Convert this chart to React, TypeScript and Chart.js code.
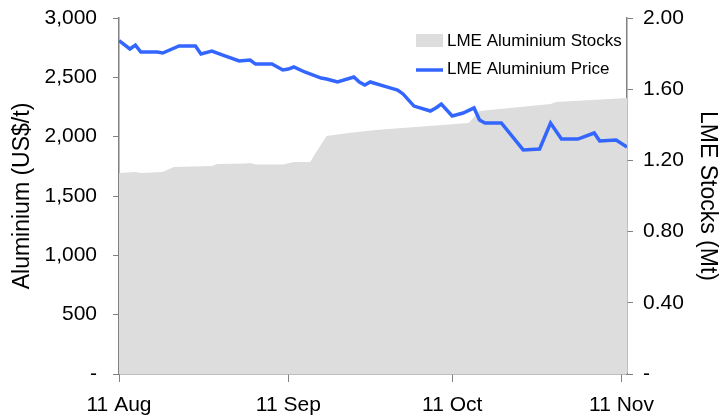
import React, { useEffect, useRef } from 'react';
import { Chart, registerables } from 'chart.js';

Chart.register(...registerables);

// x values are calendar days after 11 Aug
const tickDays = [0, 31, 61, 92];
const tickLabels = ['11 Aug', '11 Sep', '11 Oct', '11 Nov'];

const priceDays = [0, 2, 3, 4, 7, 8, 11, 14, 15, 17, 19, 22, 24, 25, 28, 30, 31, 32, 34, 37, 38, 40, 43, 44, 45, 46, 49, 51, 52, 54, 57, 58, 59, 61, 63, 65, 66, 67, 70, 74, 77, 79, 81, 84, 87, 88, 91, 93];
const priceValues = [2809, 2739, 2772, 2713, 2713, 2705, 2764, 2764, 2697, 2722, 2688, 2638, 2646, 2612, 2612, 2562, 2570, 2587, 2545, 2494, 2486, 2461, 2503, 2461, 2436, 2461, 2419, 2393, 2360, 2258, 2216, 2242, 2275, 2174, 2199, 2242, 2140, 2115, 2115, 1888, 1896, 2115, 1980, 1980, 2031, 1963, 1972, 1913];

const stockDays = [0, 3, 4, 8, 10, 17, 18, 23, 24, 25, 30, 32, 35, 36, 38, 42, 47, 64, 66, 79, 80, 93];
const stockValues = [1.129, 1.135, 1.129, 1.135, 1.163, 1.169, 1.18, 1.183, 1.185, 1.177, 1.177, 1.191, 1.191, 1.242, 1.337, 1.354, 1.371, 1.41, 1.478, 1.517, 1.528, 1.551];

const leftTicks = [0, 500, 1000, 1500, 2000, 2500, 3000];
const rightTicks = [0, 0.4, 0.8, 1.2, 1.6, 2.0];

const seriesLabels = ['LME Aluminium Stocks', 'LME Aluminium Price'];

const FONT = '"Liberation Sans", Arial, sans-serif';
const PRICE_COLOR = '#3366ff';
const STOCK_COLOR = '#dddddd';
const AXIS_COLOR = '#808080';

export default function App() {
  const ref = useRef<HTMLCanvasElement>(null);

  useEffect(() => {
    if (!ref.current) return;

    const legendPlugin = {
      id: 'insideLegend',
      afterDatasetsDraw(chart: any) {
        const { ctx, chartArea } = chart;
        const x0 = chartArea.right - 211;
        const y0 = chartArea.top;
        ctx.save();
        ctx.fillStyle = STOCK_COLOR;
        ctx.fillRect(x0, y0 + 16, 27, 13);
        ctx.strokeStyle = PRICE_COLOR;
        ctx.lineWidth = 3.5;
        ctx.beginPath();
        ctx.moveTo(x0, y0 + 52);
        ctx.lineTo(x0 + 27, y0 + 52);
        ctx.stroke();
        ctx.fillStyle = '#000';
        ctx.font = `17px ${FONT}`;
        ctx.textBaseline = 'middle';
        ctx.textAlign = 'left';
        ctx.fillText(seriesLabels[0], x0 + 31, y0 + 23);
        ctx.fillText(seriesLabels[1], x0 + 31, y0 + 51);
        ctx.restore();
      },
    };

    const fitVertical = (w: number) => (s: any) => {
      s.width = w;
      s.paddingTop = 0;
      s.paddingBottom = 0;
    };

    const chart = new Chart(ref.current, {
      type: 'line',
      data: {
        datasets: [
          {
            label: seriesLabels[1],
            data: priceDays.map((d, i) => ({ x: d, y: priceValues[i] })),
            yAxisID: 'y',
            borderColor: PRICE_COLOR,
            borderWidth: 3.5,
            pointRadius: 0,
            tension: 0,
            fill: false,
            order: 1,
          },
          {
            label: seriesLabels[0],
            data: stockDays.map((d, i) => ({ x: d, y: stockValues[i] })),
            yAxisID: 'y1',
            borderWidth: 0,
            borderColor: STOCK_COLOR,
            backgroundColor: STOCK_COLOR,
            pointRadius: 0,
            tension: 0,
            fill: 'origin',
            order: 2,
          },
        ],
      },
      options: {
        responsive: false,
        animation: false,
        devicePixelRatio: 1,
        layout: { padding: { top: 18, left: 0, right: 0, bottom: 0 } },
        plugins: {
          legend: { display: false },
          tooltip: { enabled: false },
        },
        scales: {
          x: {
            type: 'linear',
            position: 'bottom',
            min: 0,
            max: 93,
            afterBuildTicks: (s: any) => {
              s.ticks = tickDays.map((v) => ({ value: v }));
            },
            afterFit: (s: any) => {
              s.height = 42;
              s.paddingLeft = 0;
              s.paddingRight = 0;
            },
            ticks: {
              autoSkip: false,
              maxRotation: 0,
              padding: 11,
              color: '#000',
              font: { family: FONT, size: 21 },
              callback: (_v: any, i: number) => tickLabels[i],
            },
            grid: { drawOnChartArea: false, drawTicks: true, tickLength: 8, color: AXIS_COLOR },
            border: { color: AXIS_COLOR, width: 1.5 },
          },
          y: {
            type: 'linear',
            position: 'left',
            min: 0,
            max: 3000,
            afterBuildTicks: (s: any) => {
              s.ticks = leftTicks.map((v) => ({ value: v }));
            },
            afterFit: fitVertical(119),
            ticks: {
              padding: 16,
              color: '#000',
              font: { family: FONT, size: 21 },
              callback: (v: any) => (v === 0 ? '-' : Number(v).toLocaleString('en-US')),
            },
            title: {
              display: true,
              text: 'Aluminium (US$/t)',
              color: '#000',
              font: { family: FONT, size: 23 },
              padding: { top: 9, bottom: 0 },
            },
            grid: { drawOnChartArea: false, drawTicks: true, tickLength: 6, color: AXIS_COLOR },
            border: { color: AXIS_COLOR, width: 1.5 },
          },
          y1: {
            type: 'linear',
            position: 'right',
            min: 0,
            max: 2,
            afterBuildTicks: (s: any) => {
              s.ticks = rightTicks.map((v) => ({ value: v }));
            },
            afterFit: fitVertical(94),
            ticks: {
              padding: 10,
              color: '#000',
              font: { family: FONT, size: 21 },
              callback: (v: any) => (v === 0 ? '-' : Number(v).toFixed(2)),
            },
            title: {
              display: true,
              text: 'LME Stocks (Mt)',
              color: '#000',
              font: { family: FONT, size: 23 },
              padding: { top: 0, bottom: 0 },
            },
            grid: { drawOnChartArea: false, drawTicks: true, tickLength: 6, color: AXIS_COLOR },
            border: { color: AXIS_COLOR, width: 1.5 },
          },
        },
      },
      plugins: [legendPlugin],
    });

    return () => chart.destroy();
  }, []);

  return (
    <div style={{ position: 'absolute', left: 0, top: 0, width: 721, height: 416 }}>
      <canvas ref={ref} width={721} height={416} />
    </div>
  );
}
